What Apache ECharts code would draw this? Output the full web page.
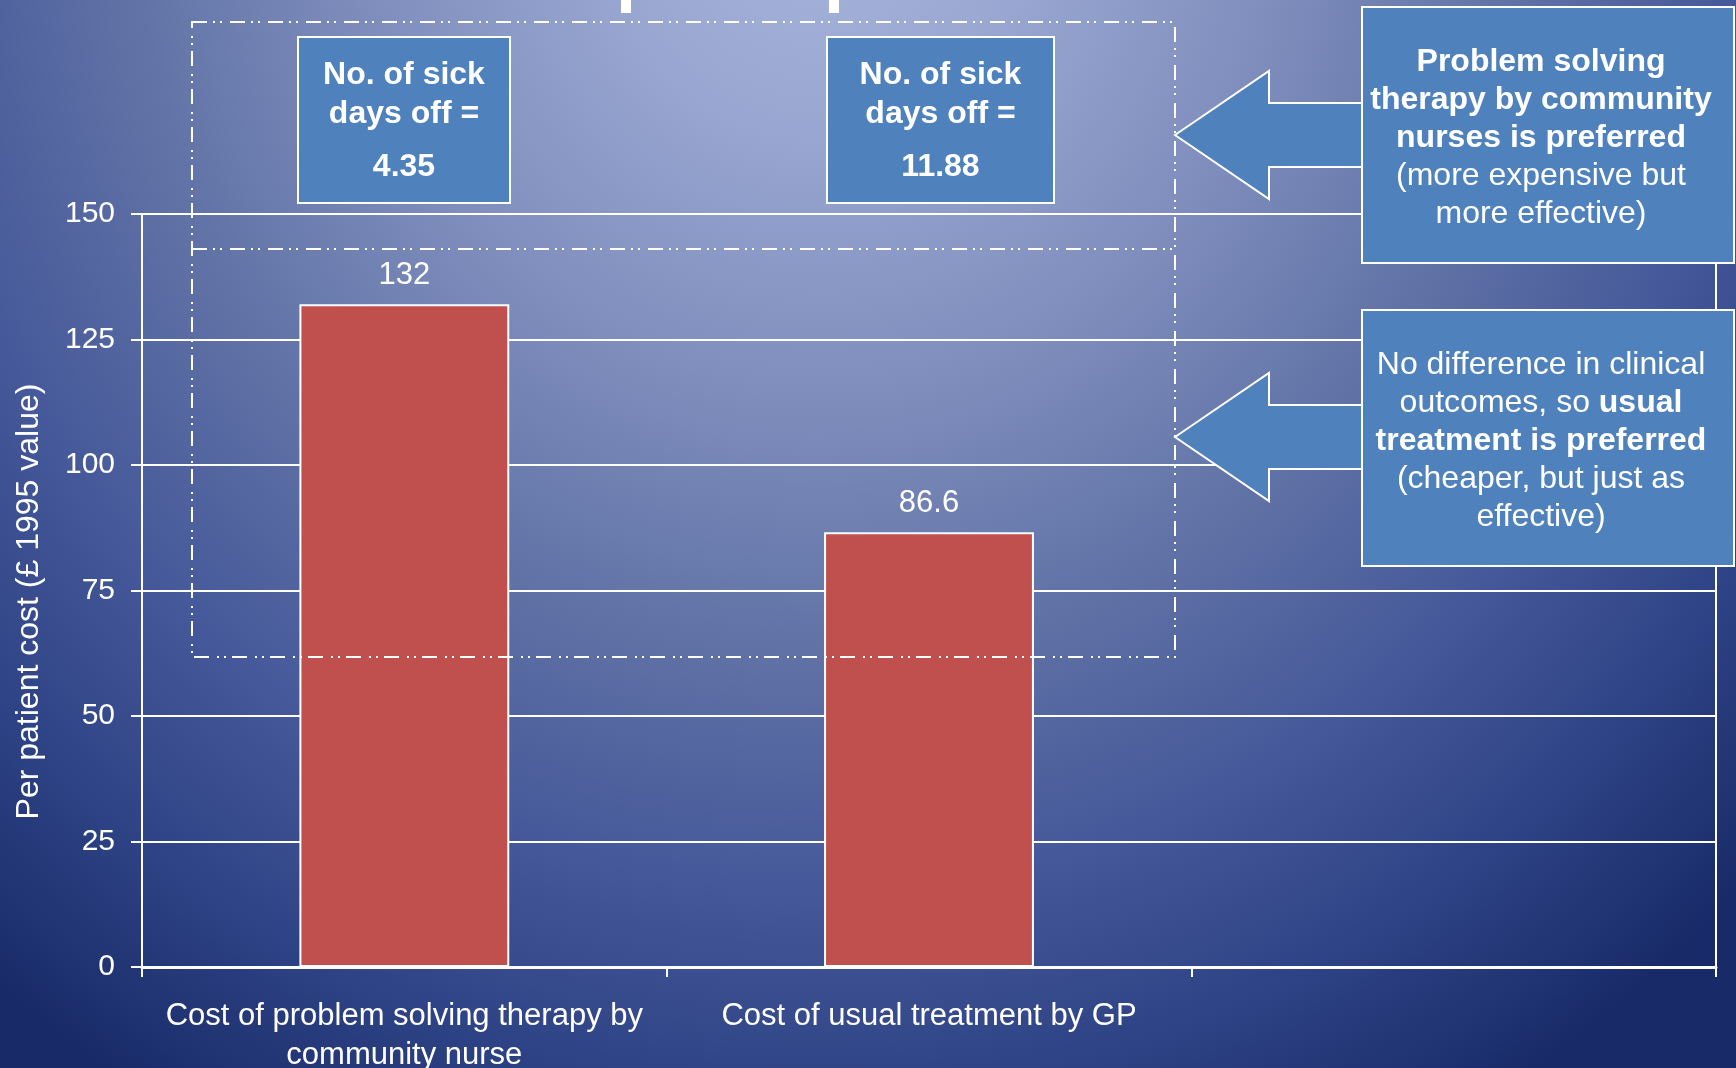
<!DOCTYPE html>
<html>
<head>
<meta charset="utf-8">
<script src="https://cdn.jsdelivr.net/npm/echarts@6/dist/echarts.min.js"></script>
<style>
  html, body { margin: 0; padding: 0; overflow: hidden; }
  #chart {
    width: 1736px; height: 1068px;
    background: radial-gradient(ellipse 1300px 1400px at 820px -100px,
      #a8b5dc 0%, #9aa8d2 15%, #7f8ebd 35%, #5e70a4 55%, #46599a 70%, #2e4385 85%, #182a68 100%);
  }
</style>
</head>
<body>
<div id="chart"></div>
<script>
// ---- data ----
const categories = ['Cost of problem solving therapy by\ncommunity nurse', 'Cost of usual treatment by GP', ''];
const costs = [132, 86.6, null];
const sickDays = [4.35, 11.88];
const yMin = 0, yMax = 150, yStep = 25;
const yAxisName = 'Per patient cost (£ 1995 value)';
const noteTop = '{b|Problem solving}\n{b|therapy by community}\n{b|nurses is preferred}\n{n|(more expensive but}\n{n|more effective)}';
const noteBottom = '{n|No difference in clinical}\n{n|outcomes, so }{b|usual}\n{b|treatment is preferred}\n{n|(cheaper, but just as}\n{n|effective)}';

const FONT = '"Liberation Sans", Arial, sans-serif';
const WHITE = '#ffffff';
const BOXBLUE = '#4f81bd';
const DASH = [15, 6, 2, 5, 2, 8];

const chart = echarts.init(document.getElementById('chart'), null, { renderer: 'canvas' });

function sickBox(x, y, w, h, value) {
  return [
    { type: 'rect', z: 100, shape: { x: x, y: y, width: w, height: h },
      style: { fill: BOXBLUE, stroke: WHITE, lineWidth: 2 } },
    { type: 'text', z: 101, x: x + w / 2, y: 95,
      style: { text: 'No. of sick\ndays off =', fill: WHITE, font: 'bold 32px ' + FONT,
               align: 'center', verticalAlign: 'middle', lineHeight: 39 } },
    { type: 'text', z: 101, x: x + w / 2, y: 167,
      style: { text: String(value), fill: WHITE, font: 'bold 32px ' + FONT,
               align: 'center', verticalAlign: 'middle' } }
  ];
}

function arrowBox(tipY, boxTop, text) {
  const tipX = 1175, baseX = 1269, boxX = 1362;
  return [
    { type: 'polygon', z: 100,
      shape: { points: [[tipX, tipY], [baseX, tipY - 64], [baseX, tipY - 32], [boxX + 2, tipY - 32],
                        [boxX + 2, tipY + 32], [baseX, tipY + 32], [baseX, tipY + 64]] },
      style: { fill: BOXBLUE, stroke: WHITE, lineWidth: 2 } },
    { type: 'rect', z: 101, shape: { x: boxX, y: boxTop, width: 372, height: 256 },
      style: { fill: BOXBLUE, stroke: WHITE, lineWidth: 2 } },
    { type: 'text', z: 102, x: 1541, y: boxTop + 131,
      style: { text: text, align: 'center', verticalAlign: 'middle',
               rich: {
                 b: { fontFamily: FONT, fontSize: 32, fontWeight: 'bold', fill: WHITE, lineHeight: 38 },
                 n: { fontFamily: FONT, fontSize: 32, fill: WHITE, lineHeight: 38 }
               } } }
  ];
}

const graphics = [].concat(
  // small white marks at top
  [{ type: 'rect', z: 100, shape: { x: 621, y: 0, width: 10, height: 13 }, style: { fill: WHITE } },
   { type: 'rect', z: 100, shape: { x: 829, y: 0, width: 10, height: 13 }, style: { fill: WHITE } }],
  // dash-dot frames
  [{ type: 'rect', z: 99, shape: { x: 192, y: 22, width: 983, height: 635 },
     style: { fill: null, stroke: WHITE, lineWidth: 2, lineDash: DASH } },
   { type: 'line', z: 99, shape: { x1: 192, y1: 249, x2: 1175, y2: 249 },
     style: { stroke: WHITE, lineWidth: 2, lineDash: DASH } }],
  sickBox(298, 37, 212, 166, sickDays[0]),
  sickBox(827, 37, 227, 166, sickDays[1]),
  arrowBox(135, 7, noteTop),
  arrowBox(437, 310, noteBottom)
);

const option = {
  backgroundColor: 'transparent',
  animation: false,
  grid: { left: 142, right: 20, top: 214, bottom: 101, containLabel: false, outerBoundsMode: 'none' },
  xAxis: {
    type: 'category',
    data: categories,
    boundaryGap: true,
    axisLine: { show: true, lineStyle: { color: WHITE, width: 3 } },
    axisTick: { show: true, length: 10, alignWithLabel: false, lineStyle: { color: WHITE, width: 2 } },
    axisLabel: { interval: 0, color: WHITE, fontFamily: FONT, fontSize: 31, lineHeight: 39, margin: 30 },
    splitLine: { show: false }
  },
  yAxis: [{
    type: 'value',
    min: yMin, max: yMax, interval: yStep,
    name: yAxisName,
    nameLocation: 'middle',
    nameGap: 97,
    nameRotate: 90,
    nameTextStyle: { color: WHITE, fontFamily: FONT, fontSize: 32, padding: [0, 22, 0, 0] },
    axisLine: { show: true, lineStyle: { color: WHITE, width: 2 } },
    axisTick: { show: true, length: 11, lineStyle: { color: WHITE, width: 2 } },
    axisLabel: { color: WHITE, fontFamily: FONT, fontSize: 30, margin: 27 },
    splitLine: { show: true, lineStyle: { color: WHITE, width: 2 } }
  }, {
    type: 'value',
    position: 'right',
    min: yMin, max: yMax, interval: yStep,
    axisLine: { show: true, lineStyle: { color: WHITE, width: 2 } },
    axisTick: { show: false },
    axisLabel: { show: false },
    splitLine: { show: false }
  }],
  series: [{
    type: 'bar',
    data: costs,
    barWidth: '40%',
    itemStyle: { color: '#c0504d', borderColor: WHITE, borderWidth: 2 },
    label: { show: true, position: 'top', distance: 13, color: WHITE, fontFamily: FONT, fontSize: 31 }
  }],
  graphic: graphics
};

chart.setOption(option);
</script>
</body>
</html>
